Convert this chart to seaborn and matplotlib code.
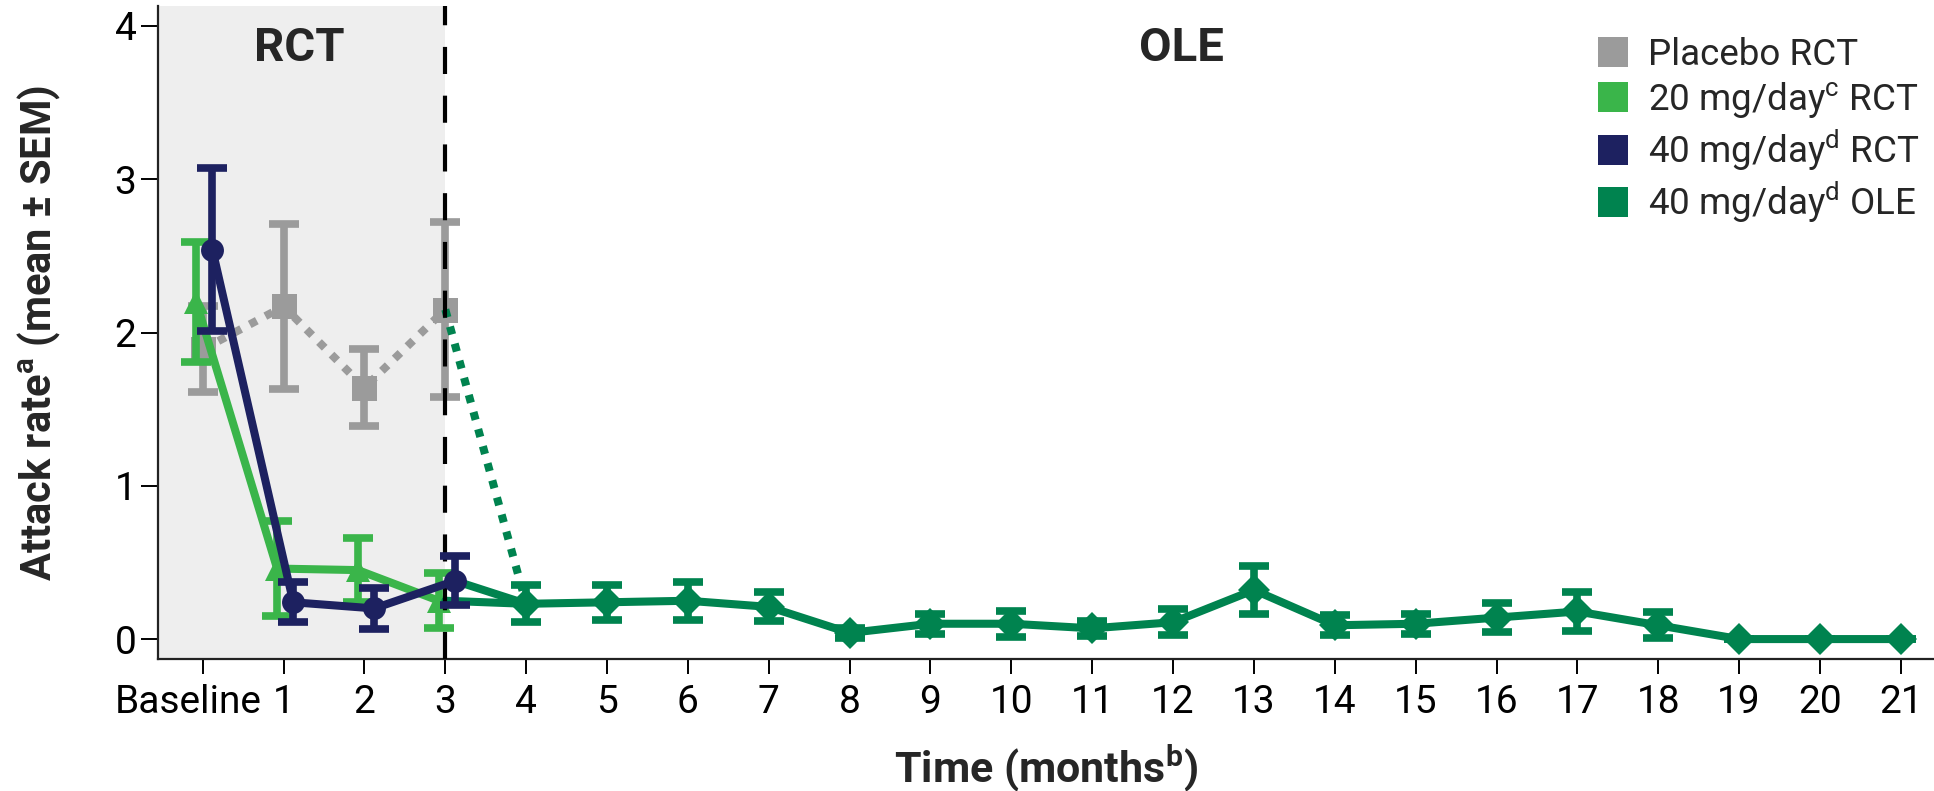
import matplotlib
matplotlib.use('Agg')
import matplotlib.pyplot as plt
import matplotlib.transforms as mtransforms
from matplotlib.lines import Line2D
import seaborn as sns

# values
rct_months = [0, 1, 2, 3]
placebo_mean = [1.89, 2.17, 1.64, 2.15]
placebo_sem = [0.28, 0.54, 0.25, 0.57]
mg20_mean = [2.20, 0.46, 0.45, 0.25]
mg20_sem = [0.39, 0.31, 0.21, 0.18]
mg40_mean = [2.54, 0.24, 0.20, 0.38]
mg40_sem = [0.53, 0.13, 0.135, 0.16]

ole_months = list(range(4, 22))
ole_mean = [0.23, 0.24, 0.25, 0.21, 0.04, 0.10, 0.10, 0.07, 0.11, 0.32,
            0.09, 0.10, 0.14, 0.18, 0.09, 0.0, 0.0, 0.0]
ole_sem = [0.12, 0.115, 0.125, 0.095, 0.03, 0.065, 0.085, 0.05, 0.085, 0.155,
           0.065, 0.065, 0.095, 0.125, 0.085, 0.0, 0.0, 0.0]

x_ticks = list(range(0, 22))
x_labels = ['Baseline'] + [str(m) for m in range(1, 22)]
y_ticks = [0, 1, 2, 3, 4]
legend_labels = ['Placebo RCT',
                 r'20 mg/day$^{\mathrm{c}}$ RCT',
                 r'40 mg/day$^{\mathrm{d}}$ RCT',
                 r'40 mg/day$^{\mathrm{d}}$ OLE']

GRAY = '#9B9B9B'
LGREEN = '#3AB54A'
NAVY = '#1D2160'
DGREEN = '#00834F'

sns.set_style('ticks')
plt.rcParams['font.family'] = ['Roboto', 'DejaVu Sans']
plt.rcParams['mathtext.fontset'] = 'custom'
plt.rcParams['mathtext.rm'] = 'Roboto'
plt.rcParams['mathtext.bf'] = 'Roboto:bold'
plt.rcParams['mathtext.it'] = 'Roboto:italic'

W, H = 1934, 791
fig = plt.figure(figsize=(W / 100, H / 100), dpi=100)
ax = fig.add_axes([158 / W, 1 - 659 / H, (W - 158) / W, (659 - 6) / H])

x_left, x_right = -0.553, 21.41
ax.set_xlim(x_left, x_right)
ax.set_ylim(-0.13, 4.13)

# RCT shaded period + divider
ax.axvspan(x_left, 3, color='#EEEEEE', zorder=0, lw=0)
ax.axvline(3, color='black', lw=3, linestyle=(0, (6.5, 5.2)), zorder=5)

dot = (0, (1, 1.2))
lw = 5.8
eb = dict(fmt='none', elinewidth=5.5, capsize=10.5, capthick=5.5)

# small horizontal dodge as in the original
off_pl, off_20, off_40 = 0.0, -0.08, 0.12
x_pl = [m + off_pl for m in rct_months]
x_20 = [m + off_20 for m in rct_months]
x_40 = [m + off_40 for m in rct_months]

# placebo
ax.errorbar(x_pl, placebo_mean, yerr=placebo_sem, ecolor=GRAY, zorder=2, **eb)
sns.lineplot(x=x_pl, y=placebo_mean, ax=ax, color=GRAY, lw=lw, linestyle=dot,
             marker='s', ms=18, mec=GRAY, mew=0, zorder=2.5)

# switch lines into the OLE
ax.plot([3, ole_months[0]], [placebo_mean[-1], ole_mean[0]], color=DGREEN,
        lw=lw, linestyle=dot, zorder=2.6)
ax.plot([3, ole_months[0]], [mg20_mean[-1], ole_mean[0]], color=DGREEN,
        lw=lw, zorder=4.5)
ax.plot([x_40[-1], ole_months[0]], [mg40_mean[-1], ole_mean[0]], color=DGREEN,
        lw=lw, zorder=4.5)

# 20 mg/day
ax.errorbar(x_20, mg20_mean, yerr=mg20_sem, ecolor=LGREEN, zorder=4, **eb)
sns.lineplot(x=x_20, y=mg20_mean, ax=ax, color=LGREEN, lw=lw,
             marker='^', ms=17, mec=LGREEN, mew=0, zorder=4)

# 40 mg/day RCT
ax.errorbar(x_40, mg40_mean, yerr=mg40_sem, ecolor=NAVY, zorder=6, **eb)
sns.lineplot(x=x_40, y=mg40_mean, ax=ax, color=NAVY, lw=lw,
             marker='o', ms=16.5, mec=NAVY, mew=0, zorder=6)

# 40 mg/day OLE
ax.errorbar(ole_months, ole_mean, yerr=ole_sem, ecolor=DGREEN, zorder=5, **eb)
sns.lineplot(x=ole_months, y=ole_mean, ax=ax, color=DGREEN, lw=lw,
             marker='D', ms=16, mec=DGREEN, mew=0, zorder=5)

ax.text(1.2, 3.77, 'RCT', ha='center', va='baseline', fontsize=34, fontweight='bold')
ax.text(12.1, 3.77, 'OLE', ha='center', va='baseline', fontsize=34, fontweight='bold')

# axes styling
sns.despine(ax=ax)
for s in ['left', 'bottom']:
    ax.spines[s].set_linewidth(1.6)
    ax.spines[s].set_color('#222222')
ax.set_xticks(x_ticks)
ax.set_xticklabels(x_labels)
ax.set_yticks(y_ticks)
ax.tick_params(axis='x', length=11, width=1.4, pad=7, labelsize=28, colors='black')
ax.tick_params(axis='y', length=12, width=1.4, pad=3.5, labelsize=28, colors='black')

lbl = ax.get_xticklabels()[0]
lbl.set_transform(lbl.get_transform() +
                  mtransforms.ScaledTranslation(-15 / 100, 0, fig.dpi_scale_trans))

ax.set_xlabel(r'Time (months$^{\mathbf{b}}$)', fontsize=31, fontweight='bold')
ax.xaxis.set_label_coords(0.5, -0.128)
ax.set_ylabel(r'Attack rate$^{\mathbf{a}}$ (mean ± SEM)', fontsize=30, fontweight='bold')
ax.yaxis.set_label_coords(-0.054, 0.5)

handles = [Line2D([], [], ls='none', marker='s', ms=21, color=c, mew=0)
           for c in [GRAY, LGREEN, NAVY, DGREEN]]
fig.legend(handles, legend_labels, loc='upper left',
           bbox_to_anchor=(1598 / W, 1 - 37 / H), frameon=False, borderpad=0,
           fontsize=26.5, handlelength=0.82, handletextpad=0.54, labelspacing=0.19,
           borderaxespad=0)

fig.savefig('out.png', dpi=100)
